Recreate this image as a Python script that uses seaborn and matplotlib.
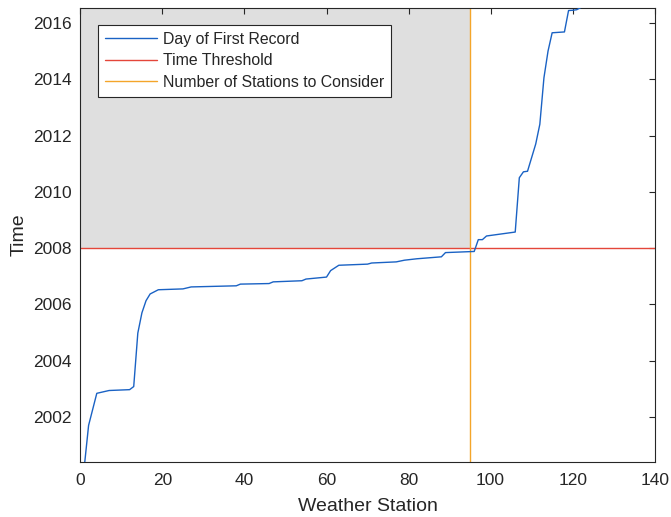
import numpy as np
import pandas as pd
import matplotlib
matplotlib.use("Agg")
import matplotlib.pyplot as plt
import seaborn as sns

# ===================== data =====================
STATION = [1, 2, 4, 7, 12, 13, 14, 15, 16, 17, 19, 25, 27, 38, 39, 46, 47, 54, 55,
           60, 61, 63, 70, 71, 77, 79, 82, 88, 89, 96, 97, 98, 99, 106, 107, 108,
           109, 111, 112, 113, 114, 115, 118, 119, 120, 121, 122]
FIRST_RECORD = [2000.30, 2001.70, 2002.84, 2002.94, 2002.97, 2003.08, 2004.98, 2005.70,
                2006.13, 2006.37, 2006.52, 2006.55, 2006.62, 2006.66, 2006.72, 2006.74,
                2006.80, 2006.84, 2006.90, 2006.97, 2007.20, 2007.39, 2007.43, 2007.47,
                2007.51, 2007.57, 2007.62, 2007.69, 2007.84, 2007.88, 2008.30, 2008.30,
                2008.43, 2008.57, 2010.50, 2010.71, 2010.73, 2011.70, 2012.40, 2014.05,
                2015.00, 2015.65, 2015.68, 2016.44, 2016.45, 2016.47, 2016.55]

TIME_THRESHOLD = 2008
N_STATIONS = 95
X_TICKS = [0, 20, 40, 60, 80, 100, 120, 140]
Y_TICKS = [2002, 2004, 2006, 2008, 2010, 2012, 2014, 2016]
Y_LIM = (2000.4, 2016.53)

# ===================== style =====================
sns.set_style("white")
plt.rcParams['font.family'] = ['Liberation Sans', 'DejaVu Sans']
plt.rcParams['text.color'] = '#262626'
plt.rcParams['axes.labelcolor'] = '#262626'
plt.rcParams['xtick.color'] = '#262626'
plt.rcParams['ytick.color'] = '#262626'

BLUE = '#1a62c4'
RED = '#e4463a'
ORANGE = '#f4a52a'
GREY = '#dfdfdf'

df = pd.DataFrame({'station': STATION, 'first': FIRST_RECORD})

fig = plt.figure(figsize=(6.71, 5.17), dpi=100)
ax = fig.add_axes([0.1198, 0.1064, 0.8559, 0.8781])

# shaded region: stations kept / time after threshold
ax.fill_between([0, N_STATIONS], TIME_THRESHOLD, Y_LIM[1], color=GREY, lw=0, zorder=0)

sns.lineplot(data=df, x='station', y='first', ax=ax, color=BLUE, lw=1.0,
             label='Day of First Record', zorder=3)
ax.axhline(TIME_THRESHOLD, color=RED, lw=1.0, label='Time Threshold', zorder=2)
ax.axvline(N_STATIONS, color=ORANGE, lw=1.0, label='Number of Stations to Consider', zorder=2)

ax.set_xlim(0, 140)
ax.set_ylim(*Y_LIM)
ax.set_xticks(X_TICKS)
ax.set_yticks(Y_TICKS)
ax.tick_params(direction='in', length=4, width=0.8, labelsize=12.5,
               top=True, right=True)
ax.tick_params(axis='x', pad=8)
ax.tick_params(axis='y', pad=6)
for s in ax.spines.values():
    s.set_visible(True)
    s.set_color('#262626')
    s.set_linewidth(0.8)

ax.set_xlabel('Weather Station', fontsize=14, labelpad=7)
ax.set_ylabel('Time', fontsize=14, labelpad=4)

leg = ax.legend(loc='upper left', bbox_to_anchor=(0.0306, 0.9626), borderaxespad=0,
                fontsize=11.4, frameon=True, fancybox=False, framealpha=1,
                handlelength=3.3, labelspacing=0.42, borderpad=0.42, handletextpad=0.4)
leg.get_frame().set_edgecolor('#262626')
leg.get_frame().set_linewidth(0.8)

fig.savefig('out.png', dpi=100)
